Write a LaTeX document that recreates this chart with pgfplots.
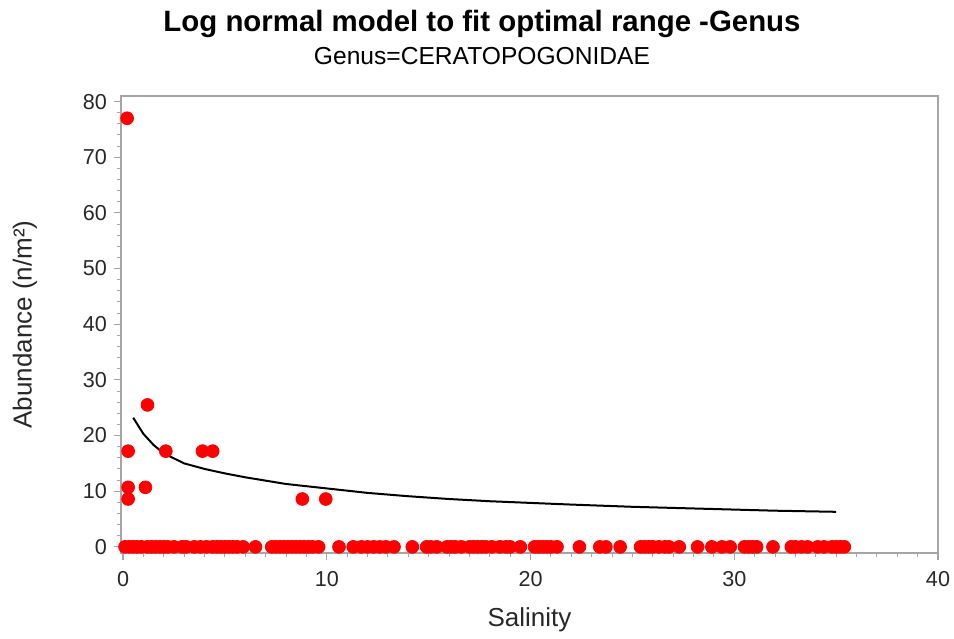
\documentclass[border=0pt]{standalone}
\usepackage{pgfplots}
\pgfplotsset{compat=1.18}
\usepackage{fontspec}
\setmainfont{Liberation Sans}
\definecolor{framegray}{RGB}{165,165,165}
\definecolor{txtgray}{RGB}{40,40,40}

\begin{document}
\begin{tikzpicture}
\useasboundingbox (-60.5pt,-42.5pt) rectangle (416.5pt,276.5pt);
\begin{axis}[
  scale only axis,
  width=408.5pt, height=228.5pt,
  xmin=-0.1, xmax=40, ymin=-1.1, ymax=81,
  xtick={0,10,20,30,40}, minor x tick num=9,
  ytick={0,10,...,80}, minor y tick num=4,
  tick align=outside, tick pos=left,
  major tick length=3.5pt, minor tick length=2pt,
  axis line style={framegray, line width=0.6pt},
  every tick/.style={framegray, line width=0.6pt},
  every minor tick/.style={framegray, line width=0.5pt},
  tick label style={font=\fontsize{10.8}{12}\selectfont, text=txtgray},
  xticklabel style={yshift=-2pt},
  /pgf/number format/assume math mode=true,
  xlabel={Salinity}, ylabel={Abundance (n/m²)},
  label style={font=\fontsize{13}{15}\selectfont, text=txtgray},
  xlabel style={at={(axis description cs:0.5,-0.1466)}, anchor=center},
  ylabel style={at={(axis description cs:-0.1175,0.5)}, anchor=center},
  clip=false,
]
% fitted log normal curve
\addplot[black, line width=1pt, no markers] coordinates {
  (0.5,23.2) (1,20.3) (1.5,18.3) (2,16.8) (3,15.0) (4,14.0) (5,13.2)
  (6,12.5) (7,11.9) (8,11.3) (9,10.9) (10,10.5) (12,9.7) (14,9.1)
  (16,8.6) (18,8.2) (20,7.9) (22,7.6) (25,7.2) (28,6.9) (30,6.7)
  (32,6.5) (35,6.3)
};
% observations
\addplot[only marks, mark=*, mark size=3.2pt, color=red, mark options={draw=red, fill=red}] coordinates {
  (0.2,77) (0.25,17.2) (0.25,10.7) (0.25,8.6) (1.1,10.7) (1.2,25.5)
  (2.1,17.2) (3.9,17.2) (4.4,17.2) (8.8,8.6) (9.95,8.6)
  (0.1,0) (0.3,0) (0.5,0) (0.7,0) (0.9,0) (1.2,0) (1.4,0) (1.6,0) (1.8,0)
  (2.0,0) (2.2,0) (2.5,0) (2.9,0) (3.1,0) (3.5,0) (3.8,0) (4.1,0)
  (4.4,0) (4.6,0) (4.8,0) (5.0,0) (5.2,0) (5.4,0) (5.6,0) (5.9,0)
  (6.5,0)
  (7.3,0) (7.5,0) (7.7,0) (7.9,0) (8.1,0) (8.3,0) (8.5,0) (8.7,0) (8.9,0)
  (9.1,0) (9.3,0) (9.6,0)
  (10.6,0) (11.3,0) (11.7,0) (12.0,0) (12.3,0) (12.6,0) (12.9,0) (13.3,0)
  (14.2,0) (14.9,0) (15.1,0) (15.4,0) (15.9,0) (16.1,0) (16.3,0) (16.6,0)
  (17.0,0) (17.2,0) (17.4,0) (17.6,0) (17.8,0) (18.1,0)
  (18.5,0) (18.8,0) (19.0,0) (19.5,0)
  (20.2,0) (20.4,0) (20.6,0) (20.8,0) (21.0,0) (21.3,0)
  (22.4,0) (23.4,0) (23.7,0) (24.4,0)
  (25.4,0) (25.6,0) (25.8,0) (26.0,0) (26.3,0) (26.6,0) (26.8,0) (27.3,0)
  (28.2,0) (28.9,0) (29.4,0) (29.8,0)
  (30.5,0) (30.7,0) (30.9,0) (31.1,0) (31.9,0)
  (32.8,0) (33.0,0) (33.3,0) (33.6,0) (34.1,0) (34.4,0)
  (34.8,0) (35.0,0) (35.2,0) (35.4,0)
};
\end{axis}
\node[anchor=base, font=\bfseries\fontsize{14.7}{17}\selectfont] at (180.5pt,260.5pt) {Log normal model to fit optimal range -Genus};
\node[anchor=base, font=\fontsize{12.3}{14}\selectfont] at (180.5pt,244pt) {Genus=CERATOPOGONIDAE};
\end{tikzpicture}
\end{document}
